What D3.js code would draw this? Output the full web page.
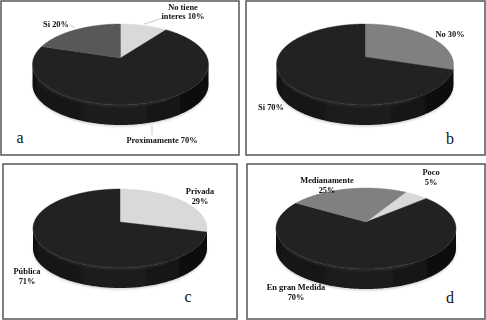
<!DOCTYPE html>
<html>
<head>
<meta charset="utf-8">
<script src="https://cdn.jsdelivr.net/npm/d3@7"></script>
<style>
html, body { margin: 0; padding: 0; background: #fff; }
svg { display: block; }
text { font-family: "Liberation Serif", serif; font-weight: bold; font-size: 8.4px; fill: #111; }
.letter { font-weight: normal; font-size: 16px; fill: #111; }
</style>
</head>
<body>
<div id="chart"></div>
<script>
// values
const labelsA = ['No tiene interes 10%', 'Proximamente 70%', 'Si 20%'];
const valuesA = [10, 70, 20];
const labelsB = ['No 30%', 'Si 70%'];
const valuesB = [30, 70];
const labelsC = ['Privada 29%', 'Pública 71%'];
const valuesC = [29, 71];
const labelsD = ['Poco 5%', 'En gran Medida 70%', 'Medianamente 25%'];
const valuesD = [5, 70, 25];

const width = 486, height = 320;
const svg = d3.select('#chart').append('svg').attr('width', width).attr('height', height);
const defs = svg.append('defs');

defs.append('filter').attr('id', 'soft').append('feGaussianBlur').attr('stdDeviation', 0.3);
defs.append('filter').attr('id', 'glow').append('feGaussianBlur').attr('stdDeviation', 0.9);
defs.append('filter').attr('id', 'shadow').append('feGaussianBlur').attr('stdDeviation', 1.2);

const side = defs.append('linearGradient').attr('id', 'side');
[[0, '#111111'], [0.3, '#1a1a1a'], [0.5, '#1f1f1f'], [0.8, '#141414'], [1, '#070707']].forEach(([o, c]) => {
    side.append('stop').attr('offset', o).attr('stop-color', c);
});

const panels = [
    {
        labels: labelsA, values: valuesA, colors: ['#d9d9d9', '#222222', '#595959'], letter: 'a', start: 0,
        frame: [1, 1, 239, 155], cx: 120.5, top: 24, rx: 88, ry: 40.5, apex: 58, depth: 20, letterAt: [20, 143],
        text: [
            { at: [183, 9.5], lines: ['No tiene', 'interes 10%'], leader: [[163, 18], [144, 24]] },
            { at: [162, 143], lines: ['Proximamente 70%'], leader: [[152, 125], [152, 135]] },
            { at: [56, 27], lines: ['Si 20%'], leader: [[70, 25], [75, 28]] },
        ],
    },
    {
        labels: labelsB, values: valuesB, colors: ['#808080', '#222222'], letter: 'b', start: 0,
        frame: [246, 1, 485, 155], cx: 365, top: 24, rx: 88.5, ry: 40.5, apex: 57, depth: 20, letterAt: [450, 144],
        text: [
            { at: [450, 37], lines: ['No 30%'] },
            { at: [271, 110], lines: ['Si 70%'] },
        ],
    },
    {
        labels: labelsC, values: valuesC, colors: ['#d9d9d9', '#222222'], letter: 'c', start: 0,
        frame: [3, 164, 237, 319], cx: 120, top: 189, rx: 87, ry: 39.5, apex: 222, depth: 20, letterAt: [188, 302],
        text: [
            { at: [200, 194], lines: ['Privada', '29%'] },
            { at: [27, 274], lines: ['Pública', '71%'] },
        ],
    },
    {
        labels: labelsD, values: valuesD, colors: ['#d9d9d9', '#222222', '#808080'], letter: 'd', start: 31,
        frame: [247, 164, 485, 319], cx: 366, top: 188, rx: 90, ry: 40.5, apex: 222, depth: 20, letterAt: [450, 303],
        text: [
            { at: [431, 175], lines: ['Poco', '5%'] },
            { at: [327, 183], lines: ['Medianamente', '25%'] },
            { at: [296, 290], lines: ['En gran Medida', '70%'] },
        ],
    },
];

function drawPanel(p) {
    const g = svg.append('g');
    const [x0, y0, x1, y1] = p.frame;

    g.append('rect')
        .attr('x', x0).attr('y', y0)
        .attr('width', x1 - x0).attr('height', y1 - y0)
        .attr('fill', '#fff').attr('stroke', '#555').attr('stroke-width', 1.5);

    const cy = p.top + p.ry;
    const off = p.apex - cy;  // apex sits above the ellipse centre
    const squash = 0.45;

    // the pie runs clockwise from its start angle, 0 is 12 o'clock
    const start = p.start * Math.PI / 180;
    const arcs = d3.pie().sort(null).value((d) => d)
        .startAngle(start).endAngle(start + 2 * Math.PI)(p.values);

    // ray from the apex to the rim of the ellipse
    const rim = (angle) => {
        const dx = Math.sin(angle), dy = -Math.cos(angle) * squash;
        const a = (dx * dx) / (p.rx * p.rx) + (dy * dy) / (p.ry * p.ry);
        const b = (2 * off * dy) / (p.ry * p.ry);
        const c = (off * off) / (p.ry * p.ry) - 1;
        const t = (-b + Math.sqrt(b * b - 4 * a * c)) / (2 * a);
        return [p.cx + dx * t, p.apex + dy * t];
    };

    const line = d3.line();
    const closed = d3.line().curve(d3.curveLinearClosed);
    const circle = d3.range(0, 2 * Math.PI, 0.02).map((t) => [
        p.cx + p.rx * Math.sin(t), cy - p.ry * Math.cos(t),
    ]);

    // faint shadow under the disc
    const lowered = circle.map(([x, y]) => [x, y + p.depth + 1.5]);
    g.append('path')
        .attr('d', closed(lowered))
        .attr('fill', '#d4d4d4')
        .attr('filter', 'url(#shadow)');

    // side wall
    const wall = d3.range(0, Math.PI + 0.01, 0.02).map((t) => [
        p.cx + p.rx * Math.cos(t), cy + p.ry * Math.sin(t),
    ]).reverse();
    const wallLow = wall.map(([x, y]) => [x, y + p.depth]).reverse();
    g.append('path')
        .attr('d', closed(wall.concat(wallLow)))
        .attr('fill', 'url(#side)')
        .attr('filter', 'url(#soft)');

    // slices
    const slices = g.append('g').attr('filter', 'url(#soft)');
    arcs.forEach((d, i) => {
        const pts = d3.range(d.startAngle, d.endAngle, 0.01).map(rim);
        pts.push(rim(d.endAngle));
        slices.append('path')
            .attr('d', line([[p.cx, p.apex], ...pts]) + 'Z')
            .attr('fill', p.colors[i])
            .attr('stroke', p.colors[i])
            .attr('stroke-width', 0.4);
    });

    // bevel highlight round the front of the rim, brightest lower left
    const bevel = d3.range(1.0, Math.PI - 0.35, 0.02).map((t) => [
        p.cx + p.rx * Math.cos(t), cy + p.ry * Math.sin(t) + 0.6,
    ]);
    g.append('path')
        .attr('d', line(bevel))
        .attr('fill', 'none')
        .attr('stroke', '#4a4a4a')
        .attr('stroke-width', 1)
        .attr('filter', 'url(#glow)');

    // labels
    p.text.forEach((t) => {
        if (t.leader) {
            g.append('path')
                .attr('d', line(t.leader))
                .attr('fill', 'none')
                .attr('stroke', '#bdbdbd')
                .attr('stroke-width', 0.8);
        }
        const label = g.append('text')
            .attr('text-anchor', 'middle')
            .attr('filter', 'url(#soft)')
            .attr('x', t.at[0])
            .attr('y', t.at[1]);
        t.lines.forEach((s, i) => {
            label.append('tspan')
                .attr('x', t.at[0])
                .attr('dy', i ? 9.5 : 0)
                .text(s);
        });
    });

    g.append('text')
        .attr('class', 'letter')
        .attr('x', p.letterAt[0])
        .attr('y', p.letterAt[1])
        .attr('text-anchor', 'middle')
        .text(p.letter);
}

panels.forEach(drawPanel);
</script>
</body>
</html>
